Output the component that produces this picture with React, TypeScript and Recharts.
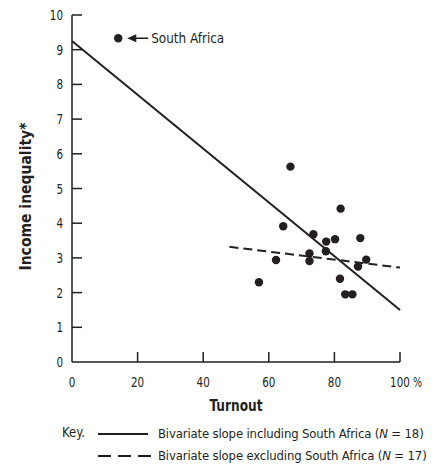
import { ScatterChart, Scatter, XAxis, YAxis, ReferenceLine } from "recharts";

const FONT = "'DejaVu Sans Condensed', 'DejaVu Sans', sans-serif";
const INK = "#231f20";

// turnout (%) and income inequality, 17 countries without South Africa
const turnout = [66.6, 81.9, 64.4, 73.6, 77.5, 80.2, 87.9, 72.4, 77.4, 62.2, 72.4, 89.7, 87.2, 81.7, 83.3, 85.5, 57.0];
const inequality = [5.63, 4.42, 3.91, 3.68, 3.47, 3.54, 3.57, 3.13, 3.19, 2.94, 2.91, 2.95, 2.75, 2.4, 1.95, 1.95, 2.3];
const southAfrica = [{ turnout: 14.1, inequality: 9.33 }];

const xTicks = [0, 20, 40, 60, 80, 100];
const yTicks = [0, 1, 2, 3, 4, 5, 6, 7, 8, 9, 10];

// fitted lines (start, end)
const slopeWith = [{ x: 0, y: 9.25 }, { x: 100, y: 1.5 }];
const slopeWithout = [{ x: 48, y: 3.32 }, { x: 100, y: 2.72 }];

const legendItems = [
  { text: "Bivariate slope including South Africa (", n: " = 18)", dash: undefined },
  { text: "Bivariate slope excluding South Africa (", n: " = 17)", dash: "13 7" },
];

const points = turnout.map((t, i) => ({ turnout: t, inequality: inequality[i] }));

const DIGIT_W = 6.6;

const Dot = (props: any) => <circle cx={props.cx} cy={props.cy} r={4.2} fill={INK} />;

const SouthAfricaDot = (props: any) => {
  const { cx, cy } = props;
  return (
    <g>
      <circle cx={cx} cy={cy} r={4.2} fill={INK} />
      <line x1={cx + 14} y1={cy} x2={cx + 30} y2={cy} stroke={INK} strokeWidth={1.5} />
      <path d={`M${cx + 9},${cy} L${cx + 18},${cy - 4} L${cx + 18},${cy + 4} Z`} fill={INK} />
      <text x={cx + 33} y={cy + 5} fontSize={14} fill={INK} fontFamily={FONT} textLength={73} lengthAdjust="spacingAndGlyphs">
        South Africa
      </text>
    </g>
  );
};

const XTick = (props: any) => {
  const { x, y, payload } = props;
  const v = payload.value;
  const s = String(v);
  return (
    <g>
      {v !== 0 && <line x1={x} y1={y} x2={x} y2={y - 10} stroke={INK} strokeWidth={1.5} />}
      <text
        x={x}
        y={y + 25}
        textAnchor="middle"
        fontSize={14}
        fill={INK}
        fontFamily={FONT}
        textLength={s.length * DIGIT_W}
        lengthAdjust="spacingAndGlyphs"
      >
        {s}
      </text>
      {v === 100 && (
        <text x={x + 13} y={y + 25} fontSize={14} fill={INK} fontFamily={FONT} textLength={9} lengthAdjust="spacingAndGlyphs">
          %
        </text>
      )}
    </g>
  );
};

const YTick = (props: any) => {
  const { x, y, payload } = props;
  const v = payload.value;
  const s = String(v);
  return (
    <g>
      {v !== 0 && <line x1={x} y1={y} x2={x + 10} y2={y} stroke={INK} strokeWidth={1.5} />}
      <text
        x={x - 9}
        y={y + 5}
        textAnchor="end"
        fontSize={14}
        fill={INK}
        fontFamily={FONT}
        textLength={s.length * DIGIT_W}
        lengthAdjust="spacingAndGlyphs"
      >
        {s}
      </text>
    </g>
  );
};

const XLabel = (props: any) => {
  const { x, y, width } = props.viewBox;
  return (
    <text
      x={x + width / 2}
      y={y + 49}
      textAnchor="middle"
      fontSize={15}
      fontWeight="bold"
      fill={INK}
      fontFamily={FONT}
      textLength={53}
      lengthAdjust="spacingAndGlyphs"
    >
      Turnout
    </text>
  );
};

const YLabel = (props: any) => {
  const { y, height } = props.viewBox;
  const cy = y + height / 2 + 8;
  return (
    <text
      x={31}
      y={cy}
      transform={`rotate(-90, 31, ${cy})`}
      textAnchor="middle"
      fontSize={15}
      fontWeight="bold"
      fill={INK}
      fontFamily={FONT}
      textLength={148}
      lengthAdjust="spacingAndGlyphs"
    >
      Income inequality*
    </text>
  );
};

export default function App() {
  return (
    <div style={{ position: "absolute", left: 0, top: 0, width: 436, height: 466, background: "#fff" }}>
      <ScatterChart width={436} height={466} margin={{ top: 15, right: 36, bottom: 74, left: 12 }}>
        <XAxis
          type="number"
          dataKey="turnout"
          domain={[0, 100]}
          ticks={xTicks}
          height={30}
          tickSize={0}
          tickMargin={0}
          tickLine={false}
          tick={<XTick />}
          axisLine={{ stroke: INK, strokeWidth: 1.5 }}
          label={<XLabel />}
        />
        <YAxis
          type="number"
          dataKey="inequality"
          domain={[0, 10]}
          ticks={yTicks}
          width={60}
          tickSize={0}
          tickMargin={0}
          tickLine={false}
          tick={<YTick />}
          axisLine={{ stroke: INK, strokeWidth: 1.5 }}
          label={<YLabel />}
        />
        <ReferenceLine segment={slopeWith} stroke={INK} strokeWidth={2} />
        <ReferenceLine segment={slopeWithout} stroke={INK} strokeWidth={2} strokeDasharray="9 5" />
        <Scatter data={points} shape={<Dot />} isAnimationActive={false} />
        <Scatter data={southAfrica} shape={<SouthAfricaDot />} isAnimationActive={false} />
      </ScatterChart>
      <svg style={{ position: "absolute", left: 0, top: 410 }} width={436} height={56}>
        <g fontFamily={FONT} fontSize={13} fill={INK}>
          <text x={62} y={27} fontSize={14} textLength={23} lengthAdjust="spacingAndGlyphs">
            Key.
          </text>
          {legendItems.map((item, i) => {
            const y = 24 + i * 22;
            return (
              <g key={i}>
                <line
                  x1={98}
                  y1={y}
                  x2={item.dash ? 152 : 148}
                  y2={y}
                  stroke={INK}
                  strokeWidth={2}
                  strokeDasharray={item.dash}
                />
                <text x={158} y={y + 4} letterSpacing={-0.15}>
                  {item.text}
                  <tspan fontStyle="italic">N</tspan>
                  {item.n}
                </text>
              </g>
            );
          })}
        </g>
      </svg>
    </div>
  );
}
